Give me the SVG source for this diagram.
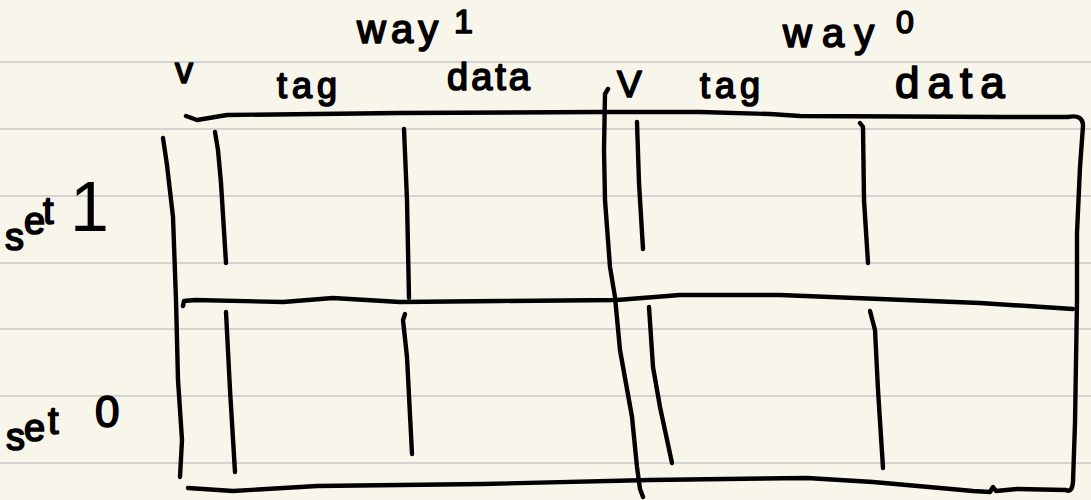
<svg xmlns="http://www.w3.org/2000/svg" width="1091" height="500" viewBox="0 0 1091 500">
  <style>
    .rule { stroke: #d3d3d3; stroke-width: 2; fill: none; }
    .ink { stroke: #000; stroke-width: 4.4; fill: none; stroke-linecap: round; stroke-linejoin: round; }
    .lbl { font-family: "Liberation Sans", Arial, sans-serif; fill: #000; stroke: #000; stroke-width: 1.7; stroke-linejoin: round; }
  </style>

  <!-- paper -->
  <rect width="1091" height="500" fill="#f8f6ea"/>
  <g id="ruled-lines">
    <line class="rule" x1="0" y1="62" x2="1091" y2="62"/>
    <line class="rule" x1="0" y1="129" x2="1091" y2="129"/>
    <line class="rule" x1="0" y1="196" x2="1091" y2="196"/>
    <line class="rule" x1="0" y1="263" x2="1091" y2="263"/>
    <line class="rule" x1="0" y1="329" x2="1091" y2="329"/>
    <line class="rule" x1="0" y1="396" x2="1091" y2="396"/>
    <line class="rule" x1="0" y1="463" x2="1091" y2="463"/>
  </g>

  <!-- cache table outline -->
  <g id="table-frame">
    <!-- top edge, right edge and bottom edge in one stroke -->
    <path class="ink" d="M186,116 L197,120 L227,115 L400,113 L600,112 L700,112 L770,114 L800,116 L1000,117 L1068,117 Q1083,114 1083,126 L1080,167 L1077,233 L1077,300 L1075,423 L1073,482 Q1072,493 1066,490 L1017,489 L996,491 L993,487 L990,492 L973,491 L940,488 L873,482 L807,478 L650,480 L483,484 L317,486 L233,491 L188,488"/>
    <!-- left edge -->
    <path class="ink" d="M163,138 L167,165 L173,217 L176,300 L178,380 L182,440 L180,477"/>
    <!-- divider between the two ways -->
    <path class="ink" d="M608,89 L605,94 L604,150 L605,200 L610,267 L615,297 L620,350 L632,417 L637,467 L640,489 L643,497"/>
    <!-- divider between the two sets -->
    <path class="ink" d="M183,306 L184,301 L195,300 L283,302 L333,298 L400,302 L500,301 L617,300 L680,295 L780,295 L880,299 L980,303 L1073,309"/>
  </g>

  <g id="way1-columns">
    <path class="ink" d="M215,132 L218,150 L221,183 L226,263"/>
    <path class="ink" d="M404,129 L407,200 L409,298"/>
    <path class="ink" d="M226,312 L230,390 L235,472"/>
    <path class="ink" d="M405,314 L403,320 L407,357 L412,454"/>
  </g>

  <g id="way0-columns">
    <path class="ink" d="M637,122 L639,183 L643,249"/>
    <path class="ink" d="M860,123 L863,127 L864,200 L868,263"/>
    <path class="ink" d="M649,307 L653,367 L660,407 L672,463"/>
    <path class="ink" d="M870,311 L875,330 L878,390 L883,468"/>
  </g>

  <!-- headings -->
  <g id="labels">
    <text class="lbl" x="357" y="43" font-size="40"><tspan letter-spacing="5">way</tspan> <tspan x="454" y="33" font-size="34">1</tspan></text>
    <text class="lbl" x="783" y="47" font-size="40"><tspan letter-spacing="10">way</tspan> <tspan x="896" y="33" font-size="32">0</tspan></text>
    <text class="lbl" x="175" y="83" font-size="36">v</text>
    <text class="lbl" x="277" y="98" font-size="36" letter-spacing="5">tag</text>
    <text class="lbl" x="447" y="90" font-size="38" letter-spacing="3">data</text>
    <text class="lbl" x="617" y="97" font-size="37">V</text>
    <text class="lbl" x="700" y="98" font-size="36" letter-spacing="5">tag</text>
    <text class="lbl" x="895" y="98" font-size="44" letter-spacing="8">data</text>
    <text class="lbl" font-size="38"><tspan x="5" y="250">s</tspan><tspan x="24" y="234">e</tspan><tspan x="43" y="224">t</tspan> <tspan x="70" y="231" font-size="70" stroke-width="0">1</tspan></text>
    <text class="lbl" font-size="38"><tspan x="6" y="450">s</tspan><tspan x="24" y="441">e</tspan><tspan x="48" y="434">t</tspan> <tspan x="95" y="427" font-size="44">0</tspan></text>
  </g>
</svg>
